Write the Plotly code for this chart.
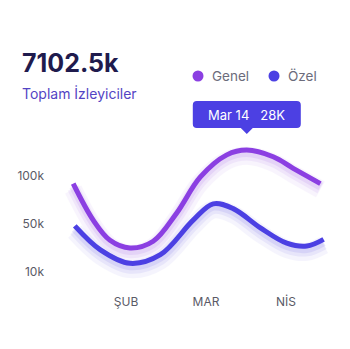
import plotly.graph_objects as go

months = ["ŞUB", "MAR", "NİS"]
month_pos = [1, 2, 3]
y_tick_pos = [0, 50, 100]
y_tick_text = ["10k", "50k", "100k"]

genel_x = [0.34, 0.59, 0.8, 1.05, 1.34, 1.63, 1.93, 2.26, 2.51, 2.84, 3.09, 3.43]
genel_y = [92, 54, 33, 25, 32, 61, 99, 122, 127, 120, 108, 92]
ozel_x = [0.36, 0.68, 1.05, 1.43, 1.84, 2.09, 2.34, 2.68, 3.01, 3.26, 3.47]
ozel_y = [48, 23, 9, 18, 54, 71, 66, 46, 30, 27, 34]

series_names = ["Genel", "Özel"]
total_text = "7102.5k"
subtitle = "Toplam İzleyiciler"
tooltip_text = "Mar 14   28K"

PURPLE = "#8B3FE2"
BLUE = "#4C40E3"
FONT = "Inter"
SMOOTH = 1.0

# plot area in pixels
L, R, T, B = 55, 10, 95, 64
W, H = 350, 349
PH = H - T - B

fig = go.Figure()

# glow
for xs, ys, col in [(genel_x, genel_y, PURPLE), (ozel_x, ozel_y, BLUE)]:
    for w, op, dy in [(18, 0.05, 6), (12, 0.08, 4.5), (8, 0.10, 3)]:
        fig.add_trace(go.Scatter(x=xs, y=[v - dy for v in ys], mode="lines",
                                 line=dict(color=col, width=w, shape="spline", smoothing=SMOOTH),
                                 opacity=op, showlegend=False, hoverinfo="skip"))

fig.add_trace(go.Scatter(x=genel_x, y=genel_y, mode="lines", name=series_names[0],
                         line=dict(color=PURPLE, width=5, shape="spline", smoothing=SMOOTH),
                         showlegend=False))
fig.add_trace(go.Scatter(x=ozel_x, y=ozel_y, mode="lines", name=series_names[1],
                         line=dict(color=BLUE, width=5, shape="spline", smoothing=SMOOTH),
                         showlegend=False))

peak_i = genel_y.index(max(genel_y))
px_, py_ = genel_x[peak_i], genel_y[peak_i]

# tooltip box with rounded corners + pointer (pixel units, y up)
box = ("M -50,49 L 50,49 Q 54,49 54,45 L 54,26 Q 54,22 50,22 "
       "L 6,22 L 0,16 L -6,22 L -50,22 Q -54,22 -54,26 L -54,45 Q -54,49 -50,49 Z")
fig.add_shape(type="path", xref="x", yref="y", xsizemode="pixel", ysizemode="pixel",
              xanchor=px_, yanchor=py_, path=box,
              fillcolor=BLUE, line=dict(width=0))

fig.add_annotation(x=px_, y=py_, xref="x", yref="y", text=tooltip_text, showarrow=False,
                   yshift=35.5, xshift=0, font=dict(family=FONT, size=13, color="white"))

def paper_x(px):
    return (px - L) / (W - L - R)

def paper_y(py):
    return (H - B - py) / PH

# legend (dots + labels)
leg_x = [paper_x(198), paper_x(274)]
leg_y = paper_y(76)
for lx, name, col in zip(leg_x, series_names, [PURPLE, BLUE]):
    fig.add_shape(type="circle", xref="paper", yref="paper", xsizemode="pixel", ysizemode="pixel",
                  xanchor=lx, yanchor=leg_y, x0=-5.5, x1=5.5, y0=-5.5, y1=5.5,
                  fillcolor=col, line=dict(width=0))
    fig.add_annotation(x=lx, y=leg_y, xref="paper", yref="paper", text=name, showarrow=False,
                       xanchor="left", yanchor="middle", xshift=12,
                       font=dict(family=FONT, size=13.5, color="#6B6B7B"))

fig.add_annotation(x=paper_x(20), y=paper_y(63), xref="paper", yref="paper",
                   text="<b>" + total_text + "</b>",
                   showarrow=False, xanchor="left", yanchor="middle",
                   font=dict(family=FONT, size=25, color="#1F1B4D"))
fig.add_annotation(x=paper_x(20), y=paper_y(93), xref="paper", yref="paper", text=subtitle,
                   showarrow=False, xanchor="left", yanchor="middle",
                   font=dict(family=FONT, size=14, color="#5344C4"))

# axis ranges: month 1 at x=126px, 80px per month; value 0 at y=272px, 0.96px per unit
x0 = (L - 46) / 80
x1 = (W - R - 46) / 80
y0 = (272 - (H - B)) / 0.96
y1 = (272 - T) / 0.96

fig.update_layout(
    width=W, height=H,
    margin=dict(l=L, r=R, t=T, b=B),
    paper_bgcolor="white", plot_bgcolor="white",
    showlegend=False,
    xaxis=dict(range=[x0, x1], tickvals=month_pos, ticktext=months, showgrid=False,
               zeroline=False, showline=False, ticks="", ticklabelstandoff=8,
               tickfont=dict(family=FONT, size=12, color="#5A5A66")),
    yaxis=dict(range=[y0, y1], tickvals=y_tick_pos, ticktext=y_tick_text, showgrid=False,
               zeroline=False, showline=False, ticks="", ticklabelstandoff=10,
               tickfont=dict(family=FONT, size=12, color="#5A5A66")),
    hovermode=False,
)

fig.write_html("out.html")
